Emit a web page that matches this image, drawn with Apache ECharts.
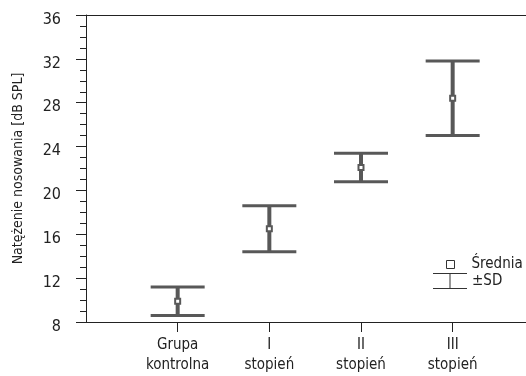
<!DOCTYPE html>
<html>
<head>
<meta charset="utf-8">
<script src="https://cdn.jsdelivr.net/npm/echarts@6/dist/echarts.min.js"></script>
<style>
html,body{margin:0;padding:0;background:#fff;}
#chart{width:526px;height:376px;}
</style>
</head>
<body>
<div id="chart"></div>
<script>
var categories = ['Grupa\nkontrolna', 'I\nstopień', 'II\nstopień', 'III\nstopień'];
var positions = [1, 2, 3, 4];
var means = [9.9, 16.5, 22.1, 28.4];
var lows = [8.6, 14.4, 20.8, 25.0];
var highs = [11.2, 18.6, 23.4, 31.8];
var yTicks = [8, 12, 16, 20, 24, 28, 32, 36];

var fontName = '"Liberation Sans Narrow", "DejaVu Sans Condensed", sans-serif';
var barColor = '#585858';

function buildBars(){
	var list = [];
	for (var i = 0; i < positions.length; i++) {
		list.push([positions[i], lows[i], highs[i]]);
	}
	return list;
}
function buildMeans(){
	var list = [];
	for (var i = 0; i < positions.length; i++) {
		list.push([positions[i], means[i]]);
	}
	return list;
}
//error bars
function renderBar(params, api){
	var x = api.value(0);
	var lo = api.coord([x, api.value(1)]);
	var hi = api.coord([x, api.value(2)]);
	var half = 27;
	return {
		type: 'group',
		children: [
			{type: 'line', shape: {x1: hi[0], y1: hi[1], x2: lo[0], y2: lo[1]},
				style: {stroke: barColor, lineWidth: 4}},
			{type: 'line', shape: {x1: hi[0] - half, y1: hi[1], x2: hi[0] + half, y2: hi[1]},
				style: {stroke: barColor, lineWidth: 3}},
			{type: 'line', shape: {x1: lo[0] - half, y1: lo[1], x2: lo[0] + half, y2: lo[1]},
				style: {stroke: barColor, lineWidth: 3}}
		]
	};
}

var chart = echarts.init(document.getElementById('chart'));
chart.setOption({
	animation: false,
	textStyle: {fontFamily: fontName},
	grid: {left: 86, top: 15, right: 0, bottom: 54},
	legend: [{
		data: [{name: 'Średnia', itemStyle: {color: '#fff', borderColor: '#333', borderWidth: 1}}],
		orient: 'vertical',
		left: 441, top: 252,
		itemWidth: 8, itemHeight: 8,
		icon: 'rect',
		textStyle: {fontSize: 15, color: '#222', fontFamily: fontName, padding: [0, 0, 0, 12]}
	}, {
		data: [{name: '±SD', itemStyle: {color: '#333'}}],
		orient: 'vertical',
		left: 428, top: 268,
		itemWidth: 34, itemHeight: 16,
		icon: 'path://M0,0H34V1H17.5V15H34V16H0V15H16.5V1H0Z',
		textStyle: {fontSize: 15, color: '#222', fontFamily: fontName, padding: [0, 0, 0, 0]}
	}],
	xAxis: [{
		type: 'value',
		min: 0,
		max: 4.8,
		splitLine: {show: false},
		axisLine: {show: true, lineStyle: {color: '#222', width: 1}},
		axisTick: {show: true, customValues: positions, length: 10, lineStyle: {color: '#222'}},
		axisLabel: {
			customValues: positions,
			fontSize: 15, color: '#222', fontFamily: fontName,
			lineHeight: 20, margin: 13,
			formatter: function(v){ return categories[Math.round(v) - 1] || ''; }
		}
	}, {
		type: 'value',
		position: 'top',
		min: 0,
		max: 4.8,
		splitLine: {show: false},
		axisLine: {show: true, onZero: false, lineStyle: {color: '#222', width: 1}},
		axisTick: {show: false},
		axisLabel: {show: false}
	}],
	yAxis: {
		type: 'value',
		min: yTicks[0],
		max: yTicks[yTicks.length - 1],
		interval: 4,
		name: 'Natężenie nosowania [dB SPL]',
		nameLocation: 'middle',
		nameGap: 61,
		nameTextStyle: {fontSize: 14, color: '#222', fontFamily: fontName},
		splitLine: {show: false},
		axisLine: {show: true, lineStyle: {color: '#222', width: 1}},
		axisTick: {show: true, length: 10, lineStyle: {color: '#222'}},
		minorTick: {show: true, splitNumber: 4, length: 6, lineStyle: {color: '#222'}},
		axisLabel: {
			margin: 25,
			formatter: function(v){ return '{n|' + v + '}'; },
			rich: {n: {fontSize: 16, color: '#222', fontFamily: fontName, padding: [9, 0, 0, 0]}}
		}
	},
	series: [{
		name: '±SD',
		type: 'custom',
		renderItem: renderBar,
		data: buildBars(),
		z: 2
	}, {
		name: 'Średnia',
		type: 'scatter',
		symbol: 'rect',
		symbolSize: 5,
		itemStyle: {color: '#fff', borderColor: barColor, borderWidth: 2, opacity: 1},
		data: buildMeans(),
		z: 3
	}]
});
</script>
</body>
</html>
